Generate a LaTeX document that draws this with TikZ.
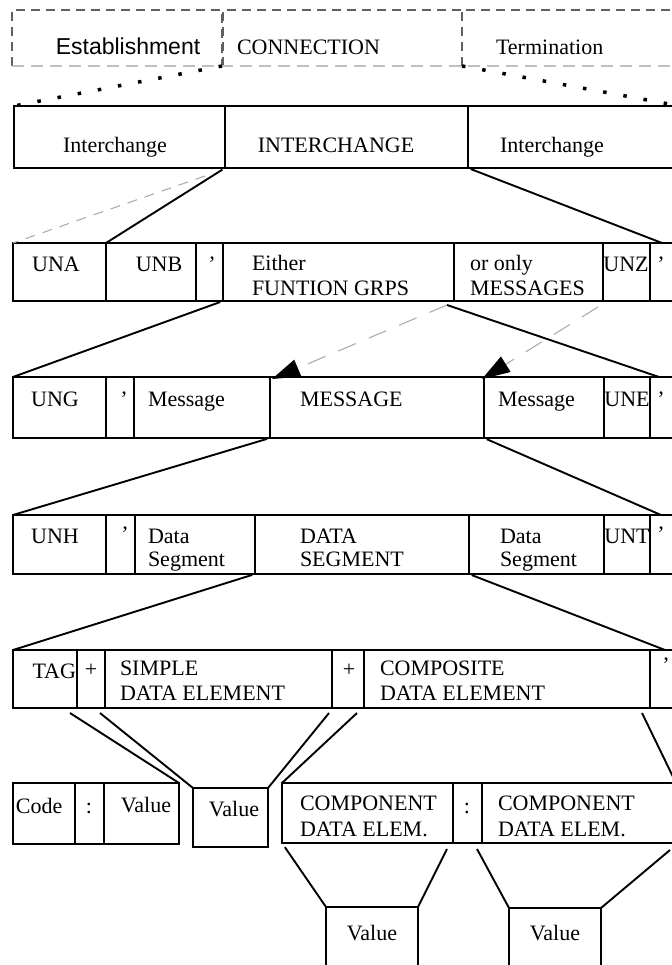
\documentclass[tikz,border=0pt]{standalone}
\usepackage{fontspec}
\setmainfont{Liberation Serif}
\newfontfamily\arialfont{Liberation Sans}
\usetikzlibrary{arrows.meta,fit,calc}
\tikzset{
  cell/.style={draw, line width=2.8pt, inner sep=0pt, outer sep=0pt},
  thincell/.style={draw, line width=1.9pt, inner sep=0pt, outer sep=0pt},
  hidden/.style={inner sep=0pt, outer sep=0pt},
  lbl/.style={inner sep=0pt, outer sep=0pt, font=\fontsize{22}{25}\selectfont},
  lblsans/.style={inner sep=0pt, outer sep=0pt, font=\arialfont\fontsize{23}{26}\selectfont},
  conn/.style={line width=1.9pt},
  gdash/.style={draw=gray!65, line width=1.1pt, dash pattern=on 10pt off 8pt},
  gdashlong/.style={draw=gray!65, line width=1.1pt, dash pattern=on 19pt off 14pt},
  dots/.style={line width=3.5pt, dash pattern=on 3.5pt off 17pt},
  topdash/.style={draw=gray!75!black, line width=1.3pt, dash pattern=on 9pt off 6pt},
  botdash/.style={draw=gray!50, line width=1.3pt, dash pattern=on 12pt off 7pt},
  bigtip/.style={-{Triangle[length=28pt,width=18pt,color=black]}}
}
\newcommand\mycell[6][cell]{\node[#1, fit={(#3,#4) (#5,#6)}] (#2) {};}
\begin{document}
\begin{tikzpicture}[x=1pt,y=-1pt]
\useasboundingbox (0,0) rectangle (671,965);

% ---- top dashed boxes
\node[hidden, fit={(12,10) (222,66)}] (est) {};
\node[hidden, fit={(223,10) (462,66)}] (conn) {};
\node[hidden, fit={(462,10) (690,66)}] (term) {};
\draw[topdash] (est.south west) |- (est.north east) -- (est.south east);
\draw[topdash] (conn.south west) |- (conn.north east);
\draw[topdash] (term.south west) |- (term.north east);
\draw[botdash] (est.south west) -- (term.south east);
\node[lblsans, anchor=base] (t-est) at (128,55) {Establishment};
\node[lbl, anchor=base west] (t-conn) at (237,55) {CONNECTION};
\node[lbl, anchor=base west] (t-term) at (496,55) {Termination};

% ---- row 1
\mycell{i1}{14}{106}{225}{168}
\mycell{i2}{225}{106}{468}{168}
\mycell{i3}{468}{106}{680}{168}
\node[lbl, anchor=base] (t-i1) at (115,153) {Interchange};
\node[lbl, anchor=base] (t-i2) at (336,153) {INTERCHANGE};
\node[lbl, anchor=base] (t-i3) at (552,153) {Interchange};

\draw[dots] (est.south east) -- (i1.north west);
\draw[dots] (term.south west) -- (i3.north east);

% ---- row 2
\mycell{una}{13}{243}{106}{301}
\mycell{unb}{106}{243}{196}{301}
\mycell{q1}{196}{243}{223}{301}
\mycell{either}{223}{243}{454}{301}
\mycell{oronly}{454}{243}{603}{301}
\mycell{unz}{603}{243}{650}{301}
\mycell{q2}{650}{243}{680}{301}
\node[lbl, anchor=base] (t-una) at (56,272) {UNA};
\node[lbl, anchor=base] (t-unb) at (159,272) {UNB};
\node[lbl, anchor=base] (t-q1) at (212,272) {’};
\node[lbl, anchor=base west] (t-either1) at (252,270) {Either};
\node[lbl, anchor=base west] (t-either2) at (252,295) {FUNTION GRPS};
\node[lbl, anchor=base west] (t-oronly1) at (470,270) {or only};
\node[lbl, anchor=base west] (t-oronly2) at (470,295) {MESSAGES};
\node[lbl, anchor=base] (t-unz) at (626,272) {UNZ};
\node[lbl, anchor=base] (t-q2) at (661,272) {’};

\coordinate (dA) at (205,176);
\draw[gdash] (dA) -- (una.north west);
\draw[conn, shorten <=3pt] (i1.south east) -- (unb.north west);
\draw[conn, shorten <=3pt] (i2.south east) -- ($(q2.north west)+(12,0)$);

% ---- row 3
\mycell{ung}{13}{377}{106}{438}
\mycell{q3}{106}{377}{134}{438}
\mycell{msgL}{134}{377}{270}{438}
\mycell{msgC}{270}{377}{484}{438}
\mycell{msgR}{484}{377}{604}{438}
\mycell{une}{604}{377}{650}{438}
\mycell{q4}{650}{377}{680}{438}
\node[lbl, anchor=base] (t-ung) at (55,406) {UNG};
\node[lbl, anchor=base] (t-q3) at (124,406) {’};
\node[lbl, anchor=base west] (t-msgL) at (148,406) {Message};
\node[lbl, anchor=base west] (t-msgC) at (300,406) {MESSAGE};
\node[lbl, anchor=base west] (t-msgR) at (498,406) {Message};
\node[lbl, anchor=base] (t-une) at (627,406) {UNE};
\node[lbl, anchor=base] (t-q4) at (661,406) {’};

\coordinate (hub) at (447,305);
\coordinate (dC) at (598,307);
\draw[conn, shorten <=3pt] (either.south west) -- (ung.north west);
\draw[conn] (hub) -- ($(q4.north west)+(9,0)$);
\draw[gdashlong, bigtip] (hub) -- ($(msgC.north west)+(2,2)$);
\draw[gdashlong, bigtip] (dC) -- ($(msgR.north west)+(-2,2)$);

% ---- row 4
\mycell{unh}{13}{515}{106}{574}
\mycell{q5}{106}{515}{135}{574}
\mycell{dsL}{135}{515}{255}{574}
\mycell{dsC}{255}{515}{469}{574}
\mycell{dsR}{469}{515}{604}{574}
\mycell{unt}{604}{515}{650}{574}
\mycell{q6}{650}{515}{680}{574}
\node[lbl, anchor=base] (t-unh) at (55,543) {UNH};
\node[lbl, anchor=base] (t-q5) at (125,541) {’};
\node[lbl, anchor=base west] (t-dsL1) at (148,543) {Data};
\node[lbl, anchor=base west] (t-dsL2) at (148,566) {Segment};
\node[lbl, anchor=base west] (t-dsC1) at (300,543) {DATA};
\node[lbl, anchor=base west] (t-dsC2) at (300,566) {SEGMENT};
\node[lbl, anchor=base west] (t-dsR1) at (500,543) {Data};
\node[lbl, anchor=base west] (t-dsR2) at (500,566) {Segment};
\node[lbl, anchor=base] (t-unt) at (627,543) {UNT};
\node[lbl, anchor=base] (t-q6) at (661,541) {’};

\draw[conn, shorten <=3pt] (msgL.south east) -- (unh.north west);
\draw[conn, shorten <=3pt] (msgC.south east) -- ($(q6.north west)+(11,0)$);

% ---- row 5
\mycell{tag}{13}{650}{77}{708}
\mycell{plus1}{77}{650}{105}{708}
\mycell{simple}{105}{650}{332}{708}
\mycell{plus2}{332}{650}{364}{708}
\mycell{composite}{364}{650}{650}{708}
\mycell{q7}{650}{650}{680}{708}
\node[lbl, anchor=base east] (t-tag) at (76,678) {TAG};
\node[lbl, anchor=base] (t-plus1) at (91,676) {+};
\node[lbl, anchor=base west] (t-simple1) at (120,675) {SIMPLE};
\node[lbl, anchor=base west] (t-simple2) at (120,700) {DATA ELEMENT};
\node[lbl, anchor=base] (t-plus2) at (349,676) {+};
\node[lbl, anchor=base west] (t-comp1) at (380,675) {COMPOSITE};
\node[lbl, anchor=base west] (t-comp2) at (380,700) {DATA ELEMENT};
\node[lbl, anchor=base] (t-q7) at (666,672) {’};

\draw[conn, shorten <=3pt] (dsL.south east) -- (tag.north west);
\draw[conn, shorten <=3pt] (dsC.south east) -- ($(q7.north west)+(15,0)$);

% ---- row 6
\mycell{code}{13}{783}{75}{844}
\mycell{colon1}{75}{783}{104}{844}
\mycell{cval}{104}{783}{179}{844}
\mycell[thincell]{lval}{193}{788}{268}{847}
\mycell{comp1}{282}{783}{453}{843}
\mycell{colon2}{453}{783}{482}{843}
\mycell{comp2}{482}{783}{680}{843}
\node[lbl, anchor=base west] (t-code) at (16,813) {Code};
\node[lbl, anchor=base] (t-colon1) at (89,813) {:};
\node[lbl, anchor=base] (t-cval) at (146,812) {Value};
\node[lbl, anchor=base] (t-lval) at (234,816) {Value};
\node[lbl, anchor=base west] (t-cp1a) at (300,810) {COMPONENT};
\node[lbl, anchor=base west] (t-cp1b) at (300,836) {DATA ELEM.};
\node[lbl, anchor=base] (t-colon2) at (467,813) {:};
\node[lbl, anchor=base west] (t-cp2a) at (498,810) {COMPONENT};
\node[lbl, anchor=base west] (t-cp2b) at (498,836) {DATA ELEM.};

\draw[conn] ($(tag.south east)+(-7,5)$) -- (cval.north east);
\draw[conn] ($(plus1.south east)+(-5,5)$) -- (lval.north west);
\draw[conn] ($(simple.south east)+(-3,5)$) -- (lval.north east);
\draw[conn] ($(plus2.south east)+(-7,5)$) -- (comp1.north west);
\draw[conn] ($(composite.south east)+(-8,5)$) -- ($(comp2.north east)+(-4,0)$);

% ---- row 7
\mycell{v1}{326}{907}{418}{990}
\mycell{v2}{509}{908}{601}{990}
\node[lbl, anchor=base] (t-v1) at (372,940) {Value};
\node[lbl, anchor=base] (t-v2) at (555,940) {Value};

\draw[conn, shorten <=5pt] (comp1.south west) -- (v1.north west);
\draw[conn] ($(comp1.south east)+(-6,6)$) -- (v1.north east);
\draw[conn] ($(comp2.south west)+(-5,6)$) -- (v2.north west);
\draw[conn] ($(comp2.north east)+(-10,67)$) -- (v2.north east);
\end{tikzpicture}
\end{document}
